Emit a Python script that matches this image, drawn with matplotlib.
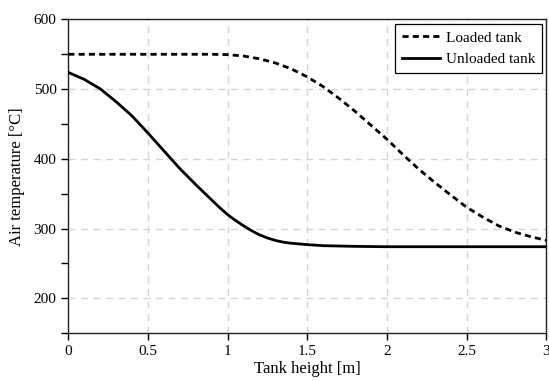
"""Air temperature along tank height, loaded vs unloaded."""

import matplotlib

matplotlib.use("Agg")
import matplotlib.pyplot as plt
from matplotlib.ticker import MultipleLocator

plt.rcParams["font.family"] = ["Liberation Serif", "DejaVu Serif"]

# tank height [m] / air temperature [°C]
height_loaded = [0.0, 0.2, 0.4, 0.6, 0.8, 0.9, 1.0, 1.1, 1.2, 1.3, 1.4, 1.5,
                 1.6, 1.7, 1.8, 1.9, 2.0, 2.1, 2.2, 2.3, 2.4, 2.5, 2.6, 2.7,
                 2.8, 2.9, 3.0]
temp_loaded = [550, 550, 550, 550, 550, 550, 549.5, 547.5, 543.5, 537.5,
               529, 517.5, 503.5, 486.5, 468, 448, 428, 406, 385, 366,
               348, 330.5, 316.5, 304, 295, 288.5, 283]

height_unloaded = [0.0, 0.1, 0.2, 0.3, 0.4, 0.5, 0.6, 0.7, 0.8, 0.9, 0.95,
                   1.0, 1.05, 1.1, 1.15, 1.2, 1.25, 1.3, 1.35, 1.4, 1.5,
                   1.6, 1.8, 2.0, 2.5, 3.0]
temp_unloaded = [524, 514, 500.5, 482, 461.5, 437, 411.5, 386, 363, 341,
                 330, 320, 311.5, 304, 297, 291, 286.5, 283, 280.5, 279,
                 277, 275.5, 274.5, 274, 274, 274]

x_ticks = [0, 0.5, 1, 1.5, 2, 2.5, 3]
x_tick_labels = ["0", "0.5", "1", "1.5", "2", "2.5", "3"]
y_ticks = [200, 300, 400, 500, 600]

fig = plt.figure(figsize=(5.49, 3.81), dpi=100)
ax = fig.add_axes((0.1244, 0.1255, 0.871, 0.8235))

ax.plot(height_loaded, temp_loaded, color="black", lw=2.0,
        dashes=(2.2, 1.5), label="Loaded tank", zorder=3)
ax.plot(height_unloaded, temp_unloaded, color="black", lw=2.0,
        solid_joinstyle="round", label="Unloaded tank", zorder=3)

ax.set_xlim(0, 3)
ax.set_ylim(150, 600)
ax.set_xticks(x_ticks)
ax.set_xticklabels(x_tick_labels)
ax.set_yticks(y_ticks)
ax.yaxis.set_minor_locator(MultipleLocator(50))
ax.tick_params(which="both", direction="out", labelsize=11, top=False,
               right=False, width=1.0, color="black", length=5)

ax.grid(True, which="major", color="#d4d4d4", linestyle=(0, (5, 4)), lw=1.0)
ax.set_axisbelow(True)
for sp in ax.spines.values():
    sp.set_linewidth(1.0)
    sp.set_color("#222222")

ax.set_xlabel("Tank height [m]", fontsize=12, labelpad=2)
ax.set_ylabel("Air temperature [°C]", fontsize=12, labelpad=6)

leg = ax.legend(loc="upper right", fontsize=11, fancybox=False,
                framealpha=1, edgecolor="black", handlelength=2.5,
                borderaxespad=0.3, handletextpad=0.35, borderpad=0.45)
leg.get_frame().set_linewidth(0.9)

fig.savefig("out.png", dpi=100)
